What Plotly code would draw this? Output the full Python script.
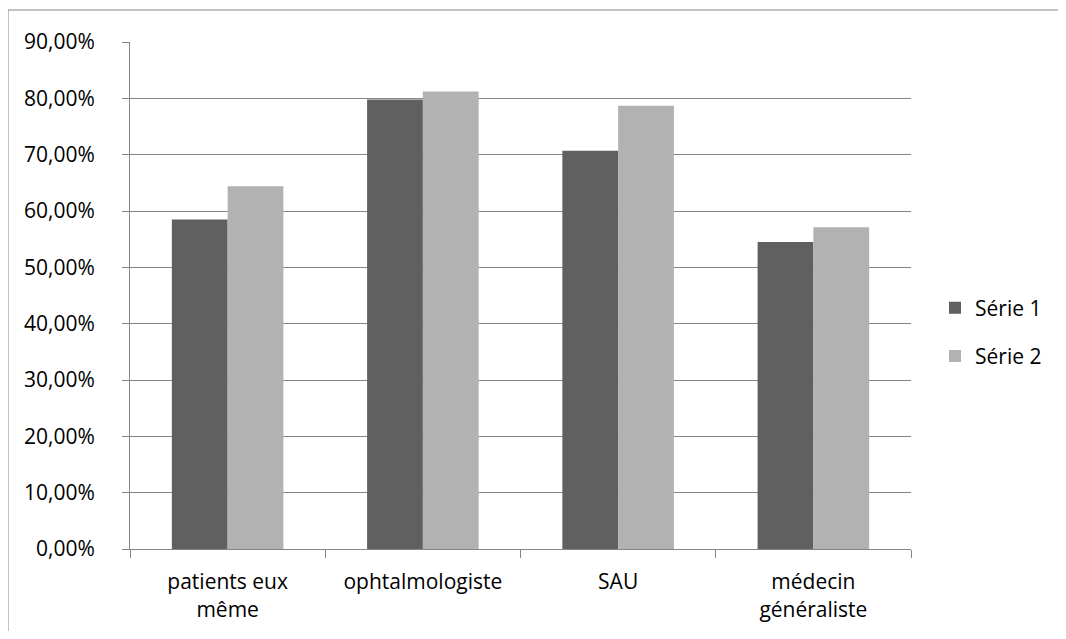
import plotly.graph_objects as go

categories = ["patients eux<br>même", "ophtalmologiste", "SAU", "médecin<br>généraliste"]
serie1 = [0.585, 0.798, 0.707, 0.545]
serie2 = [0.644, 0.812, 0.787, 0.571]
series_names = ["Série 1", "Série 2"]
colors = ["#606060", "#b2b2b2"]
ytick_vals = [0, 0.1, 0.2, 0.3, 0.4, 0.5, 0.6, 0.7, 0.8, 0.9]

# page body adds an 8px margin; figure coordinates are screen minus 8
W, H = 1058, 623
L, R, T, B = 122, 155, 34, 82
pw, ph = W - L - R, H - T - B

fig = go.Figure()
for name, vals, col in zip(series_names, [serie1, serie2], colors):
    fig.add_trace(go.Bar(x=categories, y=vals, name=name, marker=dict(color=col, line=dict(width=0)),
                         legendgroup=name))

GRID = "#868686"
FONT = "Open Sans"
fig.update_layout(
    width=W, height=H,
    margin=dict(l=L, r=R, t=T, b=B, pad=0, autoexpand=False),
    paper_bgcolor="white", plot_bgcolor="white",
    separators=", ",
    barmode="group", bargap=0.4286, bargroupgap=0,
    font=dict(family=FONT, size=21, color="#000000"),
    showlegend=True,
    legend=dict(x=(935 - L - 8) / pw, y=(H - B - (332 - 8)) / ph, xanchor="left", yanchor="middle",
                font=dict(size=21), tracegroupgap=18, traceorder="grouped",
                bgcolor="rgba(0,0,0,0)"),
    xaxis=dict(type="category", showgrid=False, showline=True, linecolor=GRID, linewidth=1,
               ticks="outside", tickson="boundaries", ticklen=8, tickcolor=GRID,
               ticklabelstandoff=14, zeroline=False, automargin=False),
    yaxis=dict(range=[0, 0.9], tickvals=ytick_vals, tickformat=".2%", showgrid=True,
               gridcolor=GRID, gridwidth=1, showline=True, linecolor=GRID, linewidth=1,
               ticks="outside", ticklen=7, tickcolor=GRID, ticklabelstandoff=23,
               zeroline=False, automargin=False),
)

# outer chart border (left and top visible)
fig.add_shape(type="rect", xref="paper", yref="paper",
              x0=(0 - L) / pw, x1=(1075 - L) / pw,
              y0=(H - B - 650) / ph, y1=(H - B - 2) / ph,
              line=dict(color=GRID, width=1), fillcolor="rgba(0,0,0,0)", layer="below")

fig.write_html("out.html")
